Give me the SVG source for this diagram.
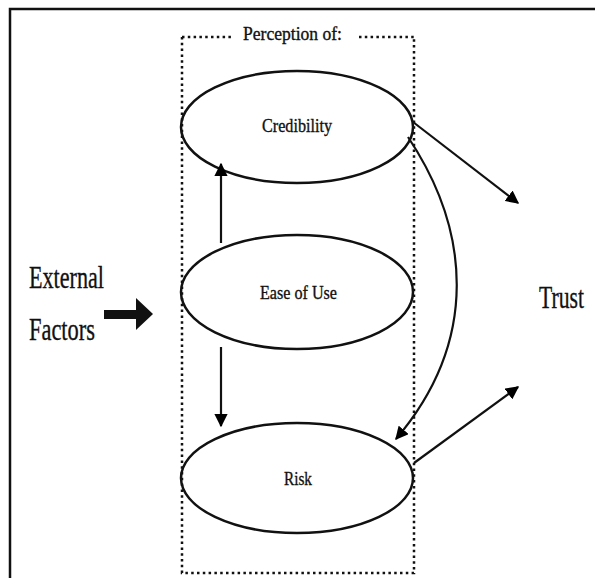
<svg xmlns="http://www.w3.org/2000/svg" width="595" height="578" viewBox="0 0 595 578">
  <defs>
    <marker id="head" viewBox="0 0 10 10" refX="9" refY="5" markerWidth="6" markerHeight="6" orient="auto" markerUnits="strokeWidth">
      <path d="M0,0 L10,5 L0,10 z" fill="#000"/>
    </marker>
  </defs>
  <style>
    .frame { fill: none; stroke: #111; stroke-width: 2.5; }
    .dotted { fill: none; stroke: #111; stroke-width: 2.5; stroke-dasharray: 2.5 3.3; }
    .oval { fill: none; stroke: #111; stroke-width: 2.5; }
    .link { fill: none; stroke: #111; stroke-width: 2.2; }
    .label { font-family: "Liberation Serif", "Times New Roman", serif; fill: #111; stroke: #111; stroke-width: 0.35; }
    .small { font-size: 19px; }
    .big { font-size: 31px; }
  </style>

  <rect width="595" height="578" fill="#fff"/>

  <!-- page frame -->
  <path class="frame" d="M10,578 L10,9 L595,9"/>

  <!-- perception grouping box -->
  <g id="perception-box">
    <path class="dotted" d="M182,37 L182,573 L414,573 L414,37"/>
    <path class="dotted" d="M182,37 L231,37"/>
    <path class="dotted" d="M359,37 L414,37"/>
    <text class="label" x="243" y="40" font-size="18" textLength="99" lengthAdjust="spacingAndGlyphs">Perception of:</text>
  </g>

  <g id="credibility">
    <ellipse class="oval" cx="297" cy="127" rx="116" ry="56"/>
    <text class="label small" x="262" y="132" textLength="70" lengthAdjust="spacingAndGlyphs">Credibility</text>
  </g>

  <g id="ease-of-use">
    <ellipse class="oval" cx="297" cy="292" rx="116" ry="57"/>
    <text class="label small" x="260" y="299" textLength="77" lengthAdjust="spacingAndGlyphs">Ease of Use</text>
  </g>

  <g id="risk">
    <ellipse class="oval" cx="297" cy="478" rx="116" ry="55"/>
    <text class="label small" x="284" y="485" textLength="28" lengthAdjust="spacingAndGlyphs">Risk</text>
  </g>

  <g id="external-factors">
    <text class="label big" x="29" y="288" textLength="75" lengthAdjust="spacingAndGlyphs">External</text>
    <text class="label big" x="29" y="340" textLength="66" lengthAdjust="spacingAndGlyphs">Factors</text>
  </g>

  <g id="trust">
    <text class="label big" transform="translate(539,308) scale(0.7,1)" x="0" y="0">Trust</text>
  </g>

  <g id="connectors">
    <!-- bold input arrow -->
    <path d="M104,310 L136,310 L136,298 L153,314 L136,330 L136,319 L104,319 z" fill="#111"/>
    <!-- ease of use to credibility / risk -->
    <path class="link" d="M221,243 L221,164" marker-end="url(#head)"/>
    <path class="link" d="M221,347 L221,426" marker-end="url(#head)"/>
    <!-- to trust -->
    <path class="link" d="M413,122 L518,203" marker-end="url(#head)"/>
    <path class="link" d="M414,463 L518,387" marker-end="url(#head)"/>
    <!-- credibility to risk -->
    <path class="link" d="M408,137 C470,230 480,340 396,439" marker-end="url(#head)"/>
  </g>
</svg>
